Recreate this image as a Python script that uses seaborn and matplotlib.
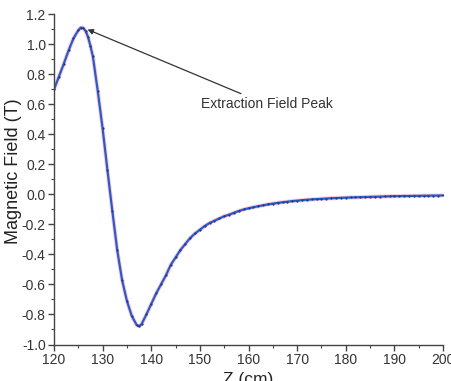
import matplotlib
matplotlib.use("Agg")
import matplotlib.pyplot as plt
import seaborn as sns
import pandas as pd
from matplotlib.ticker import MultipleLocator, FuncFormatter

z_cm = [120, 121, 122, 123, 124, 125, 125.5, 126, 126.5, 127, 127.5, 128, 129, 130,
        131, 132, 133, 134, 135, 136, 137, 137.5, 138, 139, 140, 141, 142, 143, 144,
        145, 146, 147, 148, 149, 150, 151, 152, 153, 154, 155, 156, 157, 158, 159,
        160, 161, 162, 163, 164, 165, 166, 167, 168, 169, 170, 171, 172, 173, 174,
        175, 176, 177, 178, 179, 180, 181, 182, 183, 184, 185, 186, 187, 188, 189,
        190, 191, 192, 193, 194, 195, 196, 197, 198, 199, 200]
field_T = [0.70, 0.785, 0.87, 0.96, 1.04, 1.095, 1.112, 1.11, 1.09, 1.05, 0.99, 0.92,
           0.69, 0.44, 0.16, -0.11, -0.37, -0.57, -0.71, -0.81, -0.87, -0.878, -0.865,
           -0.80, -0.73, -0.66, -0.60, -0.54, -0.47, -0.42, -0.37, -0.33, -0.29, -0.26,
           -0.235, -0.21, -0.19, -0.175, -0.16, -0.145, -0.135, -0.122, -0.11, -0.10,
           -0.092, -0.085, -0.078, -0.072, -0.066, -0.061, -0.056, -0.052, -0.048,
           -0.044, -0.041, -0.038, -0.035, -0.033, -0.031, -0.029, -0.027, -0.025,
           -0.024, -0.022, -0.021, -0.020, -0.019, -0.018, -0.017, -0.016, -0.015,
           -0.014, -0.013, -0.012, -0.011, -0.011, -0.010, -0.010, -0.009, -0.009,
           -0.008, -0.008, -0.007, -0.007, -0.006]

x_label = "Z (cm)"
y_label = "Magnetic Field (T)"
annotation = "Extraction Field Peak"

df = pd.DataFrame({"z": z_cm, "B": field_T})

sns.set_style("ticks")
plt.rcParams["font.family"] = ["Liberation Sans", "DejaVu Sans"]
plt.rcParams["axes.unicode_minus"] = False

fig = plt.figure(figsize=(4.51, 3.81), dpi=100)
ax = fig.add_axes([0.1197, 0.0958, 0.8626, 0.8662])

sns.lineplot(data=df, x="z", y="B", ax=ax, color="#ff9aa8", lw=3.0, alpha=0.5)
sns.lineplot(data=df, x="z", y="B", ax=ax, color="#2a5cc8", lw=1.6,
             marker="o", markersize=1.6, markeredgewidth=0,
             markerfacecolor="#1a3a90")

ax.set_xlim(120, 200)
ax.set_ylim(-1.0, 1.2)
ax.xaxis.set_major_locator(MultipleLocator(10))
ax.xaxis.set_minor_locator(MultipleLocator(5))
ax.yaxis.set_major_locator(MultipleLocator(0.2))
ax.yaxis.set_minor_locator(MultipleLocator(0.1))
ax.yaxis.set_major_formatter(FuncFormatter(lambda v, p: f"{v:.1f}".replace("-0.0", "0.0")))

for s in ["top", "right"]:
    ax.spines[s].set_visible(False)
for s in ["left", "bottom"]:
    ax.spines[s].set_color("#444444")
    ax.spines[s].set_linewidth(1.0)
ax.tick_params(which="major", direction="out", length=4, width=1.0,
               color="#444444", labelsize=10, labelcolor="#333333", pad=2)
ax.tick_params(which="minor", direction="out", length=2.5, width=0.8,
               color="#444444")

ax.set_xlabel(x_label, fontsize=12.5, color="#222222", labelpad=4)
ax.set_ylabel(y_label, fontsize=13, color="#222222")
ax.yaxis.set_label_coords(-0.082, 0.525)

ax.annotate(annotation, xy=(126.9, 1.10), xytext=(150.2, 0.60),
            fontsize=10, color="#333333", ha="left", va="center",
            arrowprops=dict(arrowstyle="-|>", color="#333333", lw=0.9,
                            mutation_scale=8, shrinkA=1, shrinkB=0))

fig.savefig("out.png", dpi=100)
